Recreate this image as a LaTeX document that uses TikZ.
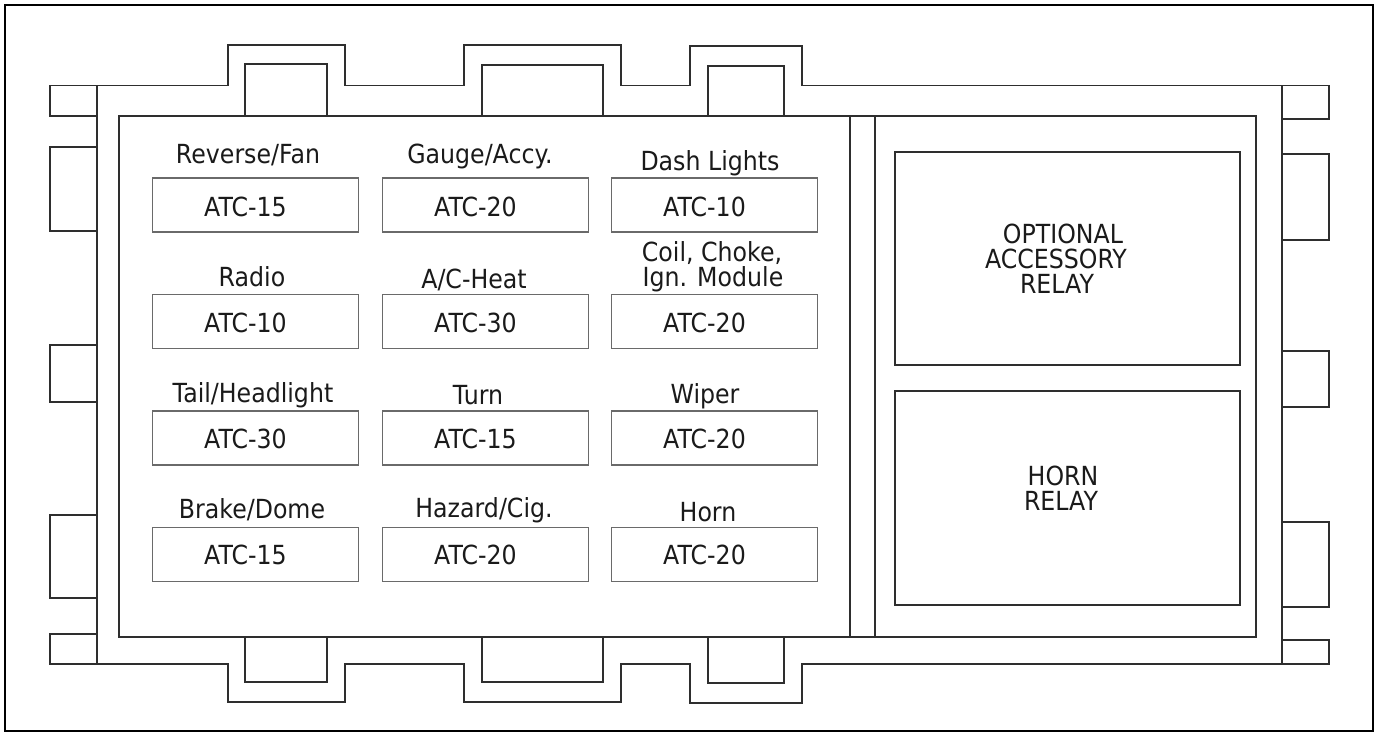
\documentclass[tikz,border=0pt]{standalone}
\usepackage{fontspec}
\setmainfont{DejaVu Sans}[FakeStretch=0.9]
\definecolor{housing}{HTML}{2E2E2E}
\definecolor{fuseline}{HTML}{6A6A6A}
\definecolor{ink}{HTML}{1A1A1A}
\tikzset{
  hous/.style={draw=housing, line width=1.5pt},
  fusebox/.style={draw=fuseline, line width=1.4pt, minimum width=206pt, minimum height=54pt, inner sep=0pt},
  relaybox/.style={draw=housing, line width=1.5pt, minimum width=345pt, inner sep=0pt},
  txt/.style={anchor=base, inner sep=0pt, text=ink, font=\fontsize{26.3}{30}\selectfont},
}
\begin{document}
\begin{tikzpicture}[x=1pt,y=-1pt]
\useasboundingbox (0,0) rectangle (1377,734);
\draw[black, line width=2.5pt] (5,5) rectangle (1373,731);
% outer housing
\draw[hous] (97,85.5) -- (228,85.5) -- (228,45) -- (345,45) -- (345,85.5) -- (464,85.5) -- (464,45) -- (621,45) -- (621,85.5) -- (690,85.5) -- (690,46) -- (802,46) -- (802,85.5) -- (1282,85.5) -- (1282,664) -- (802,664) -- (802,703) -- (690,703) -- (690,664) -- (621,664) -- (621,702) -- (464,702) -- (464,664) -- (345,664) -- (345,702) -- (228,702) -- (228,664) -- (97,664) -- cycle;
% inner panel
\draw[hous] (119,116) rectangle (1256,637);
\draw[hous] (850,116) -- (850,637);
\draw[hous] (875,116) -- (875,637);
% inner bumps
\draw[hous] (245,116) -- (245,64) -- (327,64) -- (327,116);
\draw[hous] (482,116) -- (482,65) -- (603,65) -- (603,116);
\draw[hous] (708,116) -- (708,66) -- (784,66) -- (784,116);
\draw[hous] (245,637) -- (245,682) -- (327,682) -- (327,637);
\draw[hous] (482,637) -- (482,682) -- (603,682) -- (603,637);
\draw[hous] (708,637) -- (708,683) -- (784,683) -- (784,637);
% left tabs
\draw[hous] (97,85.5) -- (50,85.5) -- (50,116) -- (97,116);
\draw[hous] (97,147) -- (50,147) -- (50,231) -- (97,231);
\draw[hous] (97,345) -- (50,345) -- (50,402) -- (97,402);
\draw[hous] (97,515) -- (50,515) -- (50,598) -- (97,598);
\draw[hous] (97,634) -- (50,634) -- (50,664) -- (97,664);
% right tabs
\draw[hous] (1282,85.5) -- (1329,85.5) -- (1329,119) -- (1282,119);
\draw[hous] (1282,154) -- (1329,154) -- (1329,240) -- (1282,240);
\draw[hous] (1282,351) -- (1329,351) -- (1329,407) -- (1282,407);
\draw[hous] (1282,522) -- (1329,522) -- (1329,607) -- (1282,607);
\draw[hous] (1282,640) -- (1329,640) -- (1329,664) -- (1282,664);
% relays
\node[relaybox, minimum height=213pt] (rel1) at (1067.5,258.5) {};
\node[relaybox, minimum height=214pt] (rel2) at (1067.5,498) {};
\node[txt] (rel1a) at (1063,243) {OPTIONAL};
\node[txt] (rel1b) at (1056,268) {ACCESSORY};
\node[txt] (rel1c) at (1057,293) {RELAY};
\node[txt] (rel2a) at (1063,485) {HORN};
\node[txt] (rel2b) at (1061,510) {RELAY};
% fuse boxes
\node[fusebox] (f11) at (255.5,205) {};
\node[fusebox] (f12) at (485.5,205) {};
\node[fusebox] (f13) at (714.5,205) {};
\node[fusebox] (f21) at (255.5,321.5) {};
\node[fusebox] (f22) at (485.5,321.5) {};
\node[fusebox] (f23) at (714.5,321.5) {};
\node[fusebox] (f31) at (255.5,438) {};
\node[fusebox] (f32) at (485.5,438) {};
\node[fusebox] (f33) at (714.5,438) {};
\node[fusebox] (f41) at (255.5,554.5) {};
\node[fusebox] (f42) at (485.5,554.5) {};
\node[fusebox] (f43) at (714.5,554.5) {};
% ratings
\node[txt] (a11) at (245.5,216) {ATC-15};
\node[txt] (a12) at (475.5,216) {ATC-20};
\node[txt] (a13) at (704.5,216) {ATC-10};
\node[txt] (a21) at (245.5,332) {ATC-10};
\node[txt] (a22) at (475.5,332) {ATC-30};
\node[txt] (a23) at (704.5,332) {ATC-20};
\node[txt] (a31) at (245.5,448.5) {ATC-30};
\node[txt] (a32) at (475.5,448.5) {ATC-15};
\node[txt] (a33) at (704.5,448.5) {ATC-20};
\node[txt] (a41) at (245.5,564.5) {ATC-15};
\node[txt] (a42) at (475.5,564.5) {ATC-20};
\node[txt] (a43) at (704.5,564.5) {ATC-20};
% labels
\node[txt] (l11) at (248,163) {Reverse/Fan};
\node[txt] (l12) at (480,163) {Gauge/Accy.};
\node[txt] (l13) at (710,170) {Dash Lights};
\node[txt] (l21) at (252,286) {Radio};
\node[txt] (l22) at (474,288) {A/C-Heat};
\node[txt] (l23a) at (712,261) {Coil, Choke,};
\node[txt] (l23b) at (713,286) {Ign. Module};
\node[txt] (l31) at (253,402) {Tail/Headlight};
\node[txt] (l32) at (478,404) {Turn};
\node[txt] (l33) at (705,403) {Wiper};
\node[txt] (l41) at (252,518) {Brake/Dome};
\node[txt] (l42) at (484,517) {Hazard/Cig.};
\node[txt] (l43) at (708,521) {Horn};
\end{tikzpicture}
\end{document}
